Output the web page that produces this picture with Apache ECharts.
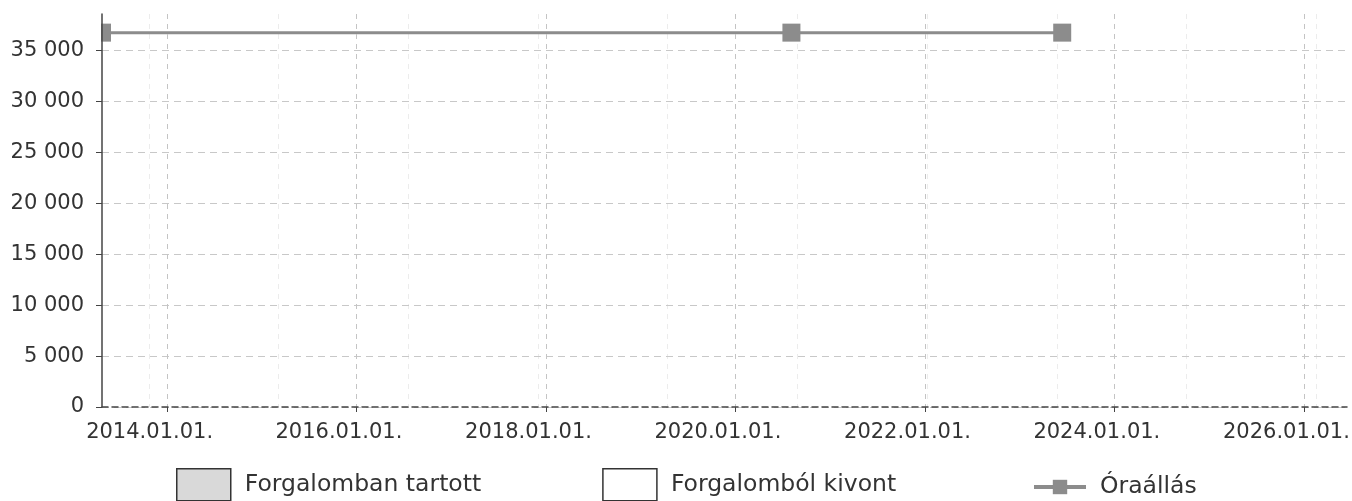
<!DOCTYPE html>
<html>
<head>
<meta charset="utf-8">
<script src="https://cdn.jsdelivr.net/npm/echarts@6/dist/echarts.min.js"></script>
<style>
	html,body{margin:0;padding:0;background:#fff;}
	#myChart{width:1352px;height:501px;}
</style>
</head>
<body>
<div id="myChart"></div>
<script>
	// óraállás adatok (dátum, km)
	var readDates = ['2013-04-25', '2020-08-04', '2023-06-14'];
	var readValues = [36770, 36770, 36770];

	// forgalmi állapot sávok (nincs adat a képen)
	var activeData = [];
	var retiredData = [];

	// tengely tartomány és osztások
	var axisStart = '2013-04-25';
	var axisEnd = '2026-06-16';
	var xTickYears = [2014, 2016, 2018, 2020, 2022, 2024, 2026];
	var yTicks = [0, 5000, 10000, 15000, 20000, 25000, 30000, 35000];
	var yMax = 38600;
	// halvány segédvonalak
	var minorStart = '2013-10-23';
	var minorStepDays = 500;

	var legendNames = ['Forgalomban tartott', 'Forgalomból kivont', 'Óraállás'];

	function ts(s){ return new Date(s + 'T00:00:00Z').getTime(); }

	var xTickValues = xTickYears.map(function(y){ return Date.UTC(y, 0, 1); });
	var minorValues = [];
	for (var t = ts(minorStart); t < ts(axisEnd); t += minorStepDays * 86400000) minorValues.push(t);

	var lineData = readDates.map(function(d, i){ return [ts(d), readValues[i]]; });

	function pad(n){ return n < 10 ? '0' + n : '' + n; }

	var myChart = echarts.init(document.getElementById('myChart'));
	myChart.setOption({
		animation: false,
		textStyle: { fontFamily: 'DejaVu Sans' },
		grid: { left: 102, right: 5, top: 14, bottom: 94, containLabel: false, outerBoundsMode: 'none' },
		// a bal szélen kilógó jelölő levágása
		graphic: [{
			type: 'rect', left: 0, top: 0, z: 5, silent: true,
			shape: { width: 101, height: 407 },
			style: { fill: '#fff' }
		}],
		legend: [{
			left: 176, top: 468, padding: 0,
			itemWidth: 54, itemHeight: 32, itemGap: 121,
			textStyle: { fontSize: 23.5, color: '#333', padding: [0, 0, 0, 9] },
			data: [
				{ name: legendNames[0], icon: 'rect', itemStyle: { color: '#d9d9d9', borderColor: '#333', borderWidth: 1.5 } },
				{ name: legendNames[1], icon: 'rect', itemStyle: { color: '#fff', borderColor: '#333', borderWidth: 1.5 } }
			]
		}, {
			left: 1032, top: 475, padding: 0,
			itemWidth: 52, itemHeight: 18,
			textStyle: { fontSize: 23.5, color: '#333', padding: [0, 0, 0, 9] },
			lineStyle: { width: 4 },
			data: [legendNames[2]]
		}],
		xAxis: [{
			type: 'value', z: 11,
			min: ts(axisStart), max: ts(axisEnd),
			axisLine: { show: true, lineStyle: { color: '#444', type: [6, 4], width: 1.5 } },
			axisTick: { show: true, length: 5, lineStyle: { color: '#444' }, customValues: xTickValues },
			axisLabel: {
				fontSize: 21, color: '#333', margin: 15, hideOverlap: false,
				padding: [0, 35, 0, 0],
				customValues: xTickValues,
				formatter: function(v){
					var d = new Date(v);
					return d.getUTCFullYear() + '.' + pad(d.getUTCMonth() + 1) + '.' + pad(d.getUTCDate()) + '.';
				}
			},
			splitLine: { show: true, lineStyle: { color: '#c4c4c4', type: [5, 5], width: 1 } }
		}, {
			type: 'value',
			min: ts(axisStart), max: ts(axisEnd),
			axisLine: { show: false },
			axisTick: { show: false, customValues: minorValues },
			axisLabel: { show: false, customValues: minorValues },
			splitLine: { show: true, lineStyle: { color: '#ececec', type: [5, 5], width: 1 } }
		}],
		yAxis: {
			type: 'value', z: 10,
			min: 0, max: yMax,
			axisLine: { show: true, lineStyle: { color: '#444', width: 1.5 } },
			axisTick: { show: true, length: 6, lineStyle: { color: '#444' }, customValues: yTicks },
			axisLabel: {
				fontSize: 21, color: '#333', margin: 18,
				customValues: yTicks,
				formatter: function(v){ return String(v).replace(/\B(?=(\d{3})+(?!\d))/g, ' '); }
			},
			splitLine: { show: true, lineStyle: { color: '#c8c8c8', type: [7, 5], width: 1 } }
		},
		series: [{
			name: legendNames[0], type: 'bar', xAxisIndex: 0,
			itemStyle: { color: '#d9d9d9', borderColor: '#333', borderWidth: 1.5 },
			data: activeData
		}, {
			name: legendNames[1], type: 'bar', xAxisIndex: 0,
			itemStyle: { color: '#fff', borderColor: '#333', borderWidth: 1.5 },
			data: retiredData
		}, {
			name: legendNames[2], type: 'line', xAxisIndex: 0,
			symbol: 'rect', symbolSize: 18,
			lineStyle: { color: '#8c8c8c', width: 3 },
			itemStyle: { color: '#8c8c8c' },
			data: lineData
		}]
	});
</script>
</body>
</html>
